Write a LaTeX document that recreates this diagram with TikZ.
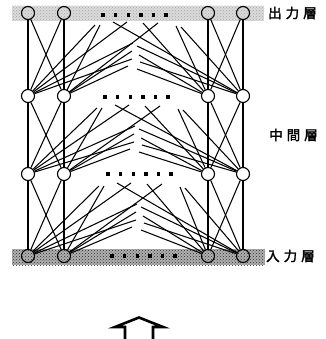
\documentclass[tikz,border=0pt]{standalone}
\usepackage{fontspec}
\newfontfamily\cjk{Noto Sans CJK JP}[FakeBold=2]
\usetikzlibrary{patterns}
\begin{document}
\begin{tikzpicture}[x=1pt,y=-1pt,
  neuron/.style={circle,draw,line width=1.1pt,minimum size=13pt,inner sep=0pt},
  midneuron/.style={neuron,fill=white},
  link/.style={line width=1.05pt},
  dotmark/.style={rectangle,fill=black,inner sep=0pt,minimum size=3.4pt},
  lab/.style={anchor=west,inner sep=0pt,font=\cjk\fontsize{13.5}{15}\selectfont}]
\useasboundingbox (0,0) rectangle (325,339);
% bands
\fill[gray!28] (12,6) rectangle (264,21);
\fill[pattern=crosshatch dots,pattern color=gray!70] (12,6) rectangle (264,21);
\fill[gray!62] (12,249) rectangle (265,265);
\fill[pattern=crosshatch dots,pattern color=gray!35!black] (12,249) rectangle (265,265);
% stub coordinates
\foreach \u/\l/\ya/\s in {1/2/13/0, 2/3/96/2, 3/4/174/4}{
  \foreach \nm/\x/\dy/\t in {a1/95/12/1, a2/100/12/2, a3/127/9/1, a4/158/10/2,
      a5/133/30/1, a6/132/38/2, a7/132/46/1, a8/128/53/2,
      b1/113/9/4, b2/143/10/3, b3/176/13/3, b4/181/14/4,
      b5/137/33/4, b6/139/42/3, b7/140/49/4, b8/137/56/3}{
    \coordinate (g\u-\nm) at (\x+\s,\ya+\dy);
  }
}
% nodes
\foreach \l/\y/\st in {1/13/neuron, 2/96/midneuron, 3/174/midneuron, 4/256/neuron}{
  \foreach \i/\x in {1/28, 2/64, 3/208, 4/243}{
    \node[\st] (n\l-\i) at (\x,\y) {};
  }
}
% links
\foreach \u/\l in {1/2, 2/3, 3/4}{
  \foreach \nm/\t in {a1/1, a2/2, a3/1, a4/2, a5/1, a6/2, a7/1, a8/2,
      b1/4, b2/3, b3/3, b4/4, b5/4, b6/3, b7/4, b8/3}{
    \draw[link] (g\u-\nm) -- (n\l-\t);
  }
  \draw[link] (n\u-1) -- (n\l-1);
  \draw[link] (n\u-2) -- (n\l-2);
  \draw[link] (n\u-1) -- (n\l-2);
  \draw[link] (n\u-2) -- (n\l-1);
  \draw[link] (n\u-3) -- (n\l-3);
  \draw[link] (n\u-4) -- (n\l-4);
  \draw[link] (n\u-3) -- (n\l-4);
  \draw[link] (n\u-4) -- (n\l-3);
}
% dots
\foreach \l/\y/\xo in {1/15/103, 2/97/105, 3/174/108, 4/256/112}{
  \foreach \k in {0,...,5}{
    \node[dotmark] (d\l-\k) at (\xo+12.6*\k,\y) {};
  }
}
% labels
\node[lab] (lout) at (268,13) {出\hspace{4pt}力\hspace{4pt}層};
\node[lab] (lmid) at (269,135) {中\hspace{4pt}間\hspace{4pt}層};
\node[lab] (lin) at (266,256) {入\hspace{4pt}力\hspace{4pt}層};
% arrow
\draw[line width=2.6pt,line join=miter] (125,340) -- (125,327) -- (115,327) -- (139,317.5) -- (163,327) -- (153,327) -- (153,340);
\end{tikzpicture}
\end{document}
